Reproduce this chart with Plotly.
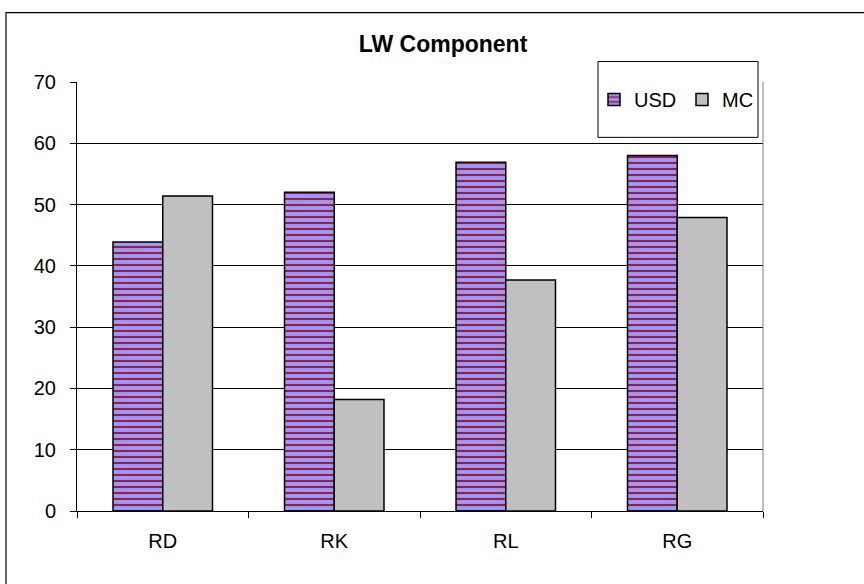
import plotly.graph_objects as go

# chart data
categories = ['RD', 'RK', 'RL', 'RG']
usd_values = [43.9, 52.0, 56.9, 58.0]
mc_values = [51.4, 18.2, 37.7, 47.9]
y_ticks = [0, 10, 20, 30, 40, 50, 60, 70]

FONT = 'Liberation Sans, Arial, sans-serif'

# plot area in pixels (864x584 page)
L, R, T, B = 77, 763, 81.5, 511.5
W, H = R - L, B - T


def px_x(x):
    # page pixel -> paper x
    return (x - L) / W


def px_y(y):
    # page pixel -> paper y
    return (B - y) / H


fig = go.Figure()
fig.add_trace(go.Bar(
    x=categories, y=usd_values, name='USD',
    marker=dict(
        color='#9999FF',
        pattern=dict(shape='-', bgcolor='#9999FF', fgcolor='#9B1E3C',
                     fgopacity=1, size=6, solidity=0.35),
        line=dict(color='black', width=1.5)),
))
fig.add_trace(go.Bar(
    x=categories, y=mc_values, name='MC',
    marker=dict(color='#C0C0C0', line=dict(color='black', width=1.5)),
))

# outer chart border (only top and left visible in the frame)
fig.add_shape(type='rect', xref='paper', yref='paper',
              x0=px_x(6), x1=px_x(875), y0=px_y(595), y1=px_y(12),
              line=dict(color='black', width=1.2), layer='below')
# right edge of the plot area
fig.add_shape(type='line', xref='paper', yref='paper',
              x0=1, x1=1, y0=0, y1=1,
              line=dict(color='#808080', width=1))
# legend box
fig.add_shape(type='rect', xref='paper', yref='paper',
              x0=px_x(598), x1=px_x(758), y0=px_y(137), y1=px_y(61),
              line=dict(color='black', width=1), fillcolor='white', layer='above')

fig.update_layout(
    width=864, height=584,
    margin=dict(l=L, r=864 - R, t=T, b=584 - B),
    paper_bgcolor='white', plot_bgcolor='white',
    barmode='group', bargap=0.42, bargroupgap=0,
    font=dict(family=FONT, size=20, color='black'),
    title=dict(text='LW Component', x=px_x(443), xref='paper', xanchor='center',
               y=1 - 43.5 / 584, yref='container', yanchor='middle',
               font=dict(family=FONT, size=23, color='black', weight='bold')),
    legend=dict(orientation='h', x=px_x(594), xanchor='left',
                y=px_y(99), yanchor='middle',
                bgcolor='rgba(0,0,0,0)', borderwidth=0,
                font=dict(family=FONT, size=20, color='black'),
                itemwidth=30, entrywidth=43, entrywidthmode='pixels'),
    showlegend=True,
)
fig.update_yaxes(range=[0, 70], tickvals=y_ticks, showgrid=True,
                 gridcolor='black', gridwidth=1, zeroline=False,
                 showline=True, linecolor='black', linewidth=1,
                 ticks='outside', ticklen=6, tickcolor='black',
                 ticklabelstandoff=10)
fig.update_xaxes(showline=True, linecolor='black', linewidth=1,
                 ticks='outside', ticklen=6, tickcolor='black',
                 tickson='boundaries', showgrid=False,
                 ticklabelstandoff=12)

# drop the browser's default body margin so the chart sits at the page corner
fig.write_html("out.html", config={'displayModeBar': False},
               post_script="document.body.style.margin = '0';")
